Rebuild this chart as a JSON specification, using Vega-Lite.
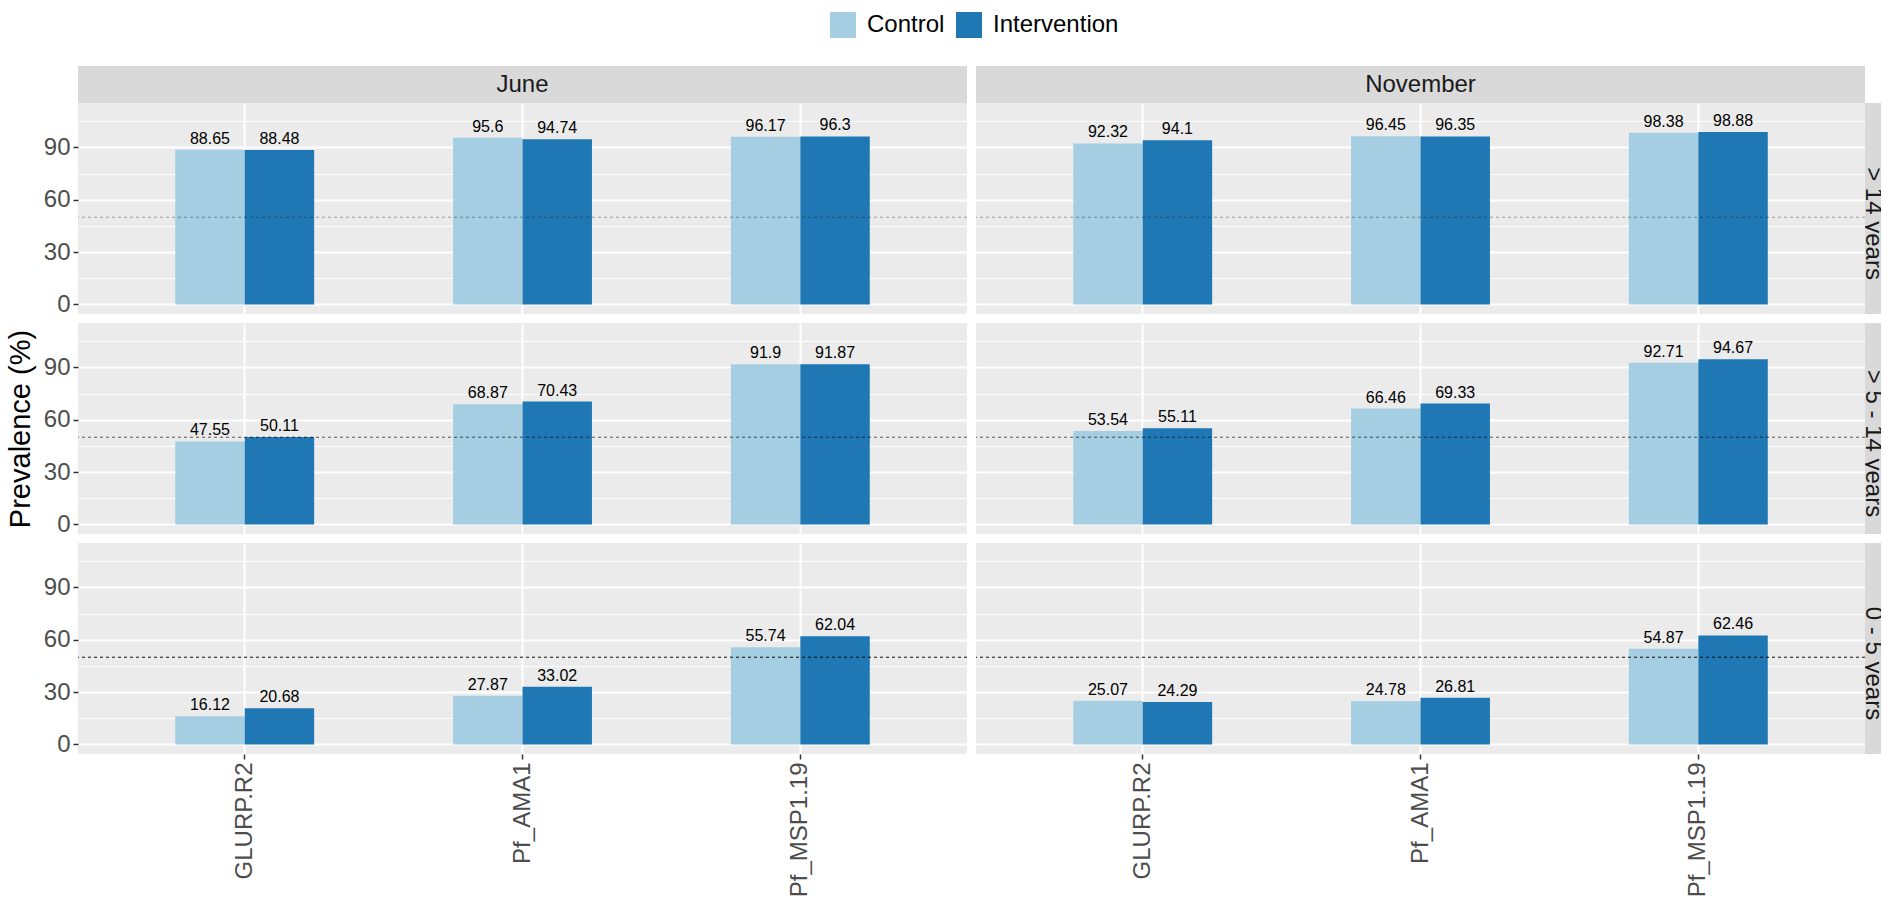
{
"$schema": "https://vega.github.io/schema/vega-lite/v6.json",
"padding": {"left": 6, "top": 12, "right": 0, "bottom": 0},
"background": "#FFFFFF",
"config": {
  "view": {"stroke": null},
  "font": "Liberation Sans",
  "axis": {"domain": false, "gridColor": "#FFFFFF", "gridWidth": 2, "labelFontSize": 24, "labelColor": "#4D4D4D", "tickColor": "#333333", "tickWidth": 1.5, "tickSize": 5, "labelPadding": 3, "titleFontSize": 29, "titleFontWeight": "normal", "titleColor": "#000000"}
},
"datasets": {
  "d": [
    {"month": "June", "age": "> 14 years", "antigen": "GLURP.R2", "group": "Control", "prev": 88.65},
    {"month": "June", "age": "> 14 years", "antigen": "GLURP.R2", "group": "Intervention", "prev": 88.48},
    {"month": "June", "age": "> 14 years", "antigen": "Pf_AMA1", "group": "Control", "prev": 95.6},
    {"month": "June", "age": "> 14 years", "antigen": "Pf_AMA1", "group": "Intervention", "prev": 94.74},
    {"month": "June", "age": "> 14 years", "antigen": "Pf_MSP1.19", "group": "Control", "prev": 96.17},
    {"month": "June", "age": "> 14 years", "antigen": "Pf_MSP1.19", "group": "Intervention", "prev": 96.3},
    {"month": "November", "age": "> 14 years", "antigen": "GLURP.R2", "group": "Control", "prev": 92.32},
    {"month": "November", "age": "> 14 years", "antigen": "GLURP.R2", "group": "Intervention", "prev": 94.1},
    {"month": "November", "age": "> 14 years", "antigen": "Pf_AMA1", "group": "Control", "prev": 96.45},
    {"month": "November", "age": "> 14 years", "antigen": "Pf_AMA1", "group": "Intervention", "prev": 96.35},
    {"month": "November", "age": "> 14 years", "antigen": "Pf_MSP1.19", "group": "Control", "prev": 98.38},
    {"month": "November", "age": "> 14 years", "antigen": "Pf_MSP1.19", "group": "Intervention", "prev": 98.88},
    {"month": "June", "age": "> 5 - 14 years", "antigen": "GLURP.R2", "group": "Control", "prev": 47.55},
    {"month": "June", "age": "> 5 - 14 years", "antigen": "GLURP.R2", "group": "Intervention", "prev": 50.11},
    {"month": "June", "age": "> 5 - 14 years", "antigen": "Pf_AMA1", "group": "Control", "prev": 68.87},
    {"month": "June", "age": "> 5 - 14 years", "antigen": "Pf_AMA1", "group": "Intervention", "prev": 70.43},
    {"month": "June", "age": "> 5 - 14 years", "antigen": "Pf_MSP1.19", "group": "Control", "prev": 91.9},
    {"month": "June", "age": "> 5 - 14 years", "antigen": "Pf_MSP1.19", "group": "Intervention", "prev": 91.87},
    {"month": "November", "age": "> 5 - 14 years", "antigen": "GLURP.R2", "group": "Control", "prev": 53.54},
    {"month": "November", "age": "> 5 - 14 years", "antigen": "GLURP.R2", "group": "Intervention", "prev": 55.11},
    {"month": "November", "age": "> 5 - 14 years", "antigen": "Pf_AMA1", "group": "Control", "prev": 66.46},
    {"month": "November", "age": "> 5 - 14 years", "antigen": "Pf_AMA1", "group": "Intervention", "prev": 69.33},
    {"month": "November", "age": "> 5 - 14 years", "antigen": "Pf_MSP1.19", "group": "Control", "prev": 92.71},
    {"month": "November", "age": "> 5 - 14 years", "antigen": "Pf_MSP1.19", "group": "Intervention", "prev": 94.67},
    {"month": "June", "age": "0 - 5 years", "antigen": "GLURP.R2", "group": "Control", "prev": 16.12},
    {"month": "June", "age": "0 - 5 years", "antigen": "GLURP.R2", "group": "Intervention", "prev": 20.68},
    {"month": "June", "age": "0 - 5 years", "antigen": "Pf_AMA1", "group": "Control", "prev": 27.87},
    {"month": "June", "age": "0 - 5 years", "antigen": "Pf_AMA1", "group": "Intervention", "prev": 33.02},
    {"month": "June", "age": "0 - 5 years", "antigen": "Pf_MSP1.19", "group": "Control", "prev": 55.74},
    {"month": "June", "age": "0 - 5 years", "antigen": "Pf_MSP1.19", "group": "Intervention", "prev": 62.04},
    {"month": "November", "age": "0 - 5 years", "antigen": "GLURP.R2", "group": "Control", "prev": 25.07},
    {"month": "November", "age": "0 - 5 years", "antigen": "GLURP.R2", "group": "Intervention", "prev": 24.29},
    {"month": "November", "age": "0 - 5 years", "antigen": "Pf_AMA1", "group": "Control", "prev": 24.78},
    {"month": "November", "age": "0 - 5 years", "antigen": "Pf_AMA1", "group": "Intervention", "prev": 26.81},
    {"month": "November", "age": "0 - 5 years", "antigen": "Pf_MSP1.19", "group": "Control", "prev": 54.87},
    {"month": "November", "age": "0 - 5 years", "antigen": "Pf_MSP1.19", "group": "Intervention", "prev": 62.46}
  ]
},
"columns": 4,
"spacing": 0,
"bounds": "flush",
"align": "each",
"resolve": {"scale": {"color": "shared"}},
"concat": [
  {"width": 889, "height": 37, "view": {"fill": "#D9D9D9", "stroke": null}, "data": {"values": [{"label": "June"}]}, "mark": {"type": "text", "fontSize": 24, "color": "#1A1A1A", "align": "center", "baseline": "middle"}, "encoding": {"text": {"field": "label"}}},
  {"width": 9, "height": 37, "data": {"values": []}, "mark": "point"},
  {"width": 889, "height": 37, "view": {"fill": "#D9D9D9", "stroke": null}, "data": {"values": [{"label": "November"}]}, "mark": {"type": "text", "fontSize": 24, "color": "#1A1A1A", "align": "center", "baseline": "middle"}, "encoding": {"text": {"field": "label"}}},
  {"width": 16, "height": 37, "data": {"values": []}, "mark": "point"},

  {"width": 889, "height": 211, "view": {"fill": "#EBEBEB", "stroke": null},
   "layer": [
    {"data": {"name": "d"}, "transform": [{"filter": "datum.month === 'June' && datum.age === '> 14 years'"}],
     "mark": {"type": "bar"},
     "encoding": {
      "x": {"field": "antigen", "type": "nominal", "sort": ["GLURP.R2", "Pf_AMA1", "Pf_MSP1.19"], "scale": {"paddingInner": 0.5, "paddingOuter": 0.35}, "axis": {"title": null, "labels": false, "ticks": false, "grid": true, "bandPosition": 0.5}},
      "xOffset": {"field": "group", "type": "nominal", "sort": ["Control", "Intervention"]},
      "y": {"field": "prev", "type": "quantitative", "scale": {"domain": [-5.5, 115.5], "nice": false, "zero": false}, "axis": {"title": null, "values": [0, 30, 60, 90], "grid": true}},
      "color": {"field": "group", "type": "nominal", "scale": {"domain": ["Control", "Intervention"], "range": ["#A6CEE3", "#1F78B4"]}, "legend": {"title": null, "orient": "none", "legendX": 752, "legendY": -54, "direction": "horizontal", "symbolType": "square", "symbolSize": 676, "symbolStrokeWidth": 0, "labelFontSize": 24, "labelColor": "#000000", "labelOffset": 11, "columnPadding": 11, "padding": 0}}
     }},
    {"data": {"name": "d"}, "transform": [{"filter": "datum.month === 'June' && datum.age === '> 14 years'"}],
     "mark": {"type": "text", "baseline": "alphabetic", "dy": -6, "fontSize": 16, "color": "#000000"},
     "encoding": {
      "x": {"field": "antigen", "type": "nominal", "sort": ["GLURP.R2", "Pf_AMA1", "Pf_MSP1.19"], "scale": {"paddingInner": 0.5, "paddingOuter": 0.35}, "axis": {"title": null, "labels": false, "ticks": false, "grid": true, "bandPosition": 0.5}},
      "xOffset": {"field": "group", "type": "nominal", "sort": ["Control", "Intervention"]},
      "y": {"field": "prev", "type": "quantitative", "scale": {"domain": [-5.5, 115.5], "nice": false, "zero": false}, "axis": null},
      "text": {"field": "prev", "type": "quantitative"}
     }},
    {"data": {"values": [{"ref": 50}]},
     "mark": {"type": "rule", "strokeDash": [3, 3], "strokeWidth": 1, "color": "#000000", "opacity": 0.35},
     "encoding": {"y": {"field": "ref", "type": "quantitative", "scale": {"domain": [-5.5, 115.5], "nice": false, "zero": false}, "axis": {"orient": "right", "title": null, "values": [15, 45, 75, 105], "labels": false, "ticks": false, "grid": true, "gridWidth": 1}}}}
   ],
   "resolve": {"axis": {"y": "independent"}}},
  {"width": 9, "height": 211, "data": {"values": []}, "mark": "point"},
  {"width": 889, "height": 211, "view": {"fill": "#EBEBEB", "stroke": null},
   "layer": [
    {"data": {"name": "d"}, "transform": [{"filter": "datum.month === 'November' && datum.age === '> 14 years'"}],
     "mark": {"type": "bar"},
     "encoding": {
      "x": {"field": "antigen", "type": "nominal", "sort": ["GLURP.R2", "Pf_AMA1", "Pf_MSP1.19"], "scale": {"paddingInner": 0.5, "paddingOuter": 0.35}, "axis": {"title": null, "labels": false, "ticks": false, "grid": true, "bandPosition": 0.5}},
      "xOffset": {"field": "group", "type": "nominal", "sort": ["Control", "Intervention"]},
      "y": {"field": "prev", "type": "quantitative", "scale": {"domain": [-5.5, 115.5], "nice": false, "zero": false}, "axis": {"title": null, "values": [0, 30, 60, 90], "labels": false, "ticks": false, "grid": true}},
      "color": {"field": "group", "type": "nominal", "scale": {"domain": ["Control", "Intervention"], "range": ["#A6CEE3", "#1F78B4"]}, "legend": {"title": null, "orient": "none", "legendX": 752, "legendY": -54, "direction": "horizontal", "symbolType": "square", "symbolSize": 676, "symbolStrokeWidth": 0, "labelFontSize": 24, "labelColor": "#000000", "labelOffset": 11, "columnPadding": 11, "padding": 0}}
     }},
    {"data": {"name": "d"}, "transform": [{"filter": "datum.month === 'November' && datum.age === '> 14 years'"}],
     "mark": {"type": "text", "baseline": "alphabetic", "dy": -6, "fontSize": 16, "color": "#000000"},
     "encoding": {
      "x": {"field": "antigen", "type": "nominal", "sort": ["GLURP.R2", "Pf_AMA1", "Pf_MSP1.19"], "scale": {"paddingInner": 0.5, "paddingOuter": 0.35}, "axis": {"title": null, "labels": false, "ticks": false, "grid": true, "bandPosition": 0.5}},
      "xOffset": {"field": "group", "type": "nominal", "sort": ["Control", "Intervention"]},
      "y": {"field": "prev", "type": "quantitative", "scale": {"domain": [-5.5, 115.5], "nice": false, "zero": false}, "axis": null},
      "text": {"field": "prev", "type": "quantitative"}
     }},
    {"data": {"values": [{"ref": 50}]},
     "mark": {"type": "rule", "strokeDash": [3, 3], "strokeWidth": 1, "color": "#000000", "opacity": 0.35},
     "encoding": {"y": {"field": "ref", "type": "quantitative", "scale": {"domain": [-5.5, 115.5], "nice": false, "zero": false}, "axis": {"orient": "right", "title": null, "values": [15, 45, 75, 105], "labels": false, "ticks": false, "grid": true, "gridWidth": 1}}}}
   ],
   "resolve": {"axis": {"y": "independent"}}},
  {"width": 16, "height": 211, "view": {"fill": "#D9D9D9", "stroke": null}, "data": {"values": [{"label": "> 14 years"}]}, "mark": {"type": "text", "angle": 90, "fontSize": 24, "color": "#1A1A1A", "align": "center", "baseline": "middle", "dx": 15, "clip": true}, "encoding": {"text": {"field": "label"}}},

  {"width": 889, "height": 9, "data": {"values": []}, "mark": "point"},
  {"width": 9, "height": 9, "data": {"values": []}, "mark": "point"},
  {"width": 889, "height": 9, "data": {"values": []}, "mark": "point"},
  {"width": 16, "height": 9, "data": {"values": []}, "mark": "point"},

  {"width": 889, "height": 211, "view": {"fill": "#EBEBEB", "stroke": null},
   "layer": [
    {"data": {"name": "d"}, "transform": [{"filter": "datum.month === 'June' && datum.age === '> 5 - 14 years'"}],
     "mark": {"type": "bar"},
     "encoding": {
      "x": {"field": "antigen", "type": "nominal", "sort": ["GLURP.R2", "Pf_AMA1", "Pf_MSP1.19"], "scale": {"paddingInner": 0.5, "paddingOuter": 0.35}, "axis": {"title": null, "labels": false, "ticks": false, "grid": true, "bandPosition": 0.5}},
      "xOffset": {"field": "group", "type": "nominal", "sort": ["Control", "Intervention"]},
      "y": {"field": "prev", "type": "quantitative", "scale": {"domain": [-5.5, 115.5], "nice": false, "zero": false}, "axis": {"title": "Prevalence (%)", "titlePadding": 8, "values": [0, 30, 60, 90], "grid": true}},
      "color": {"field": "group", "type": "nominal", "scale": {"domain": ["Control", "Intervention"], "range": ["#A6CEE3", "#1F78B4"]}, "legend": {"title": null, "orient": "none", "legendX": 752, "legendY": -54, "direction": "horizontal", "symbolType": "square", "symbolSize": 676, "symbolStrokeWidth": 0, "labelFontSize": 24, "labelColor": "#000000", "labelOffset": 11, "columnPadding": 11, "padding": 0}}
     }},
    {"data": {"name": "d"}, "transform": [{"filter": "datum.month === 'June' && datum.age === '> 5 - 14 years'"}],
     "mark": {"type": "text", "baseline": "alphabetic", "dy": -6, "fontSize": 16, "color": "#000000"},
     "encoding": {
      "x": {"field": "antigen", "type": "nominal", "sort": ["GLURP.R2", "Pf_AMA1", "Pf_MSP1.19"], "scale": {"paddingInner": 0.5, "paddingOuter": 0.35}, "axis": {"title": null, "labels": false, "ticks": false, "grid": true, "bandPosition": 0.5}},
      "xOffset": {"field": "group", "type": "nominal", "sort": ["Control", "Intervention"]},
      "y": {"field": "prev", "type": "quantitative", "scale": {"domain": [-5.5, 115.5], "nice": false, "zero": false}, "axis": null},
      "text": {"field": "prev", "type": "quantitative"}
     }},
    {"data": {"values": [{"ref": 50}]},
     "mark": {"type": "rule", "strokeDash": [3, 3], "strokeWidth": 1, "color": "#000000", "opacity": 0.65},
     "encoding": {"y": {"field": "ref", "type": "quantitative", "scale": {"domain": [-5.5, 115.5], "nice": false, "zero": false}, "axis": {"orient": "right", "title": null, "values": [15, 45, 75, 105], "labels": false, "ticks": false, "grid": true, "gridWidth": 1}}}}
   ],
   "resolve": {"axis": {"y": "independent"}}},
  {"width": 9, "height": 211, "data": {"values": []}, "mark": "point"},
  {"width": 889, "height": 211, "view": {"fill": "#EBEBEB", "stroke": null},
   "layer": [
    {"data": {"name": "d"}, "transform": [{"filter": "datum.month === 'November' && datum.age === '> 5 - 14 years'"}],
     "mark": {"type": "bar"},
     "encoding": {
      "x": {"field": "antigen", "type": "nominal", "sort": ["GLURP.R2", "Pf_AMA1", "Pf_MSP1.19"], "scale": {"paddingInner": 0.5, "paddingOuter": 0.35}, "axis": {"title": null, "labels": false, "ticks": false, "grid": true, "bandPosition": 0.5}},
      "xOffset": {"field": "group", "type": "nominal", "sort": ["Control", "Intervention"]},
      "y": {"field": "prev", "type": "quantitative", "scale": {"domain": [-5.5, 115.5], "nice": false, "zero": false}, "axis": {"title": null, "values": [0, 30, 60, 90], "labels": false, "ticks": false, "grid": true}},
      "color": {"field": "group", "type": "nominal", "scale": {"domain": ["Control", "Intervention"], "range": ["#A6CEE3", "#1F78B4"]}, "legend": {"title": null, "orient": "none", "legendX": 752, "legendY": -54, "direction": "horizontal", "symbolType": "square", "symbolSize": 676, "symbolStrokeWidth": 0, "labelFontSize": 24, "labelColor": "#000000", "labelOffset": 11, "columnPadding": 11, "padding": 0}}
     }},
    {"data": {"name": "d"}, "transform": [{"filter": "datum.month === 'November' && datum.age === '> 5 - 14 years'"}],
     "mark": {"type": "text", "baseline": "alphabetic", "dy": -6, "fontSize": 16, "color": "#000000"},
     "encoding": {
      "x": {"field": "antigen", "type": "nominal", "sort": ["GLURP.R2", "Pf_AMA1", "Pf_MSP1.19"], "scale": {"paddingInner": 0.5, "paddingOuter": 0.35}, "axis": {"title": null, "labels": false, "ticks": false, "grid": true, "bandPosition": 0.5}},
      "xOffset": {"field": "group", "type": "nominal", "sort": ["Control", "Intervention"]},
      "y": {"field": "prev", "type": "quantitative", "scale": {"domain": [-5.5, 115.5], "nice": false, "zero": false}, "axis": null},
      "text": {"field": "prev", "type": "quantitative"}
     }},
    {"data": {"values": [{"ref": 50}]},
     "mark": {"type": "rule", "strokeDash": [3, 3], "strokeWidth": 1, "color": "#000000", "opacity": 0.65},
     "encoding": {"y": {"field": "ref", "type": "quantitative", "scale": {"domain": [-5.5, 115.5], "nice": false, "zero": false}, "axis": {"orient": "right", "title": null, "values": [15, 45, 75, 105], "labels": false, "ticks": false, "grid": true, "gridWidth": 1}}}}
   ],
   "resolve": {"axis": {"y": "independent"}}},
  {"width": 16, "height": 211, "view": {"fill": "#D9D9D9", "stroke": null}, "data": {"values": [{"label": "> 5 - 14 years"}]}, "mark": {"type": "text", "angle": 90, "fontSize": 24, "color": "#1A1A1A", "align": "center", "baseline": "middle", "dx": 15, "clip": true}, "encoding": {"text": {"field": "label"}}},

  {"width": 889, "height": 9, "data": {"values": []}, "mark": "point"},
  {"width": 9, "height": 9, "data": {"values": []}, "mark": "point"},
  {"width": 889, "height": 9, "data": {"values": []}, "mark": "point"},
  {"width": 16, "height": 9, "data": {"values": []}, "mark": "point"},

  {"width": 889, "height": 211, "view": {"fill": "#EBEBEB", "stroke": null},
   "layer": [
    {"data": {"name": "d"}, "transform": [{"filter": "datum.month === 'June' && datum.age === '0 - 5 years'"}],
     "mark": {"type": "bar"},
     "encoding": {
      "x": {"field": "antigen", "type": "nominal", "sort": ["GLURP.R2", "Pf_AMA1", "Pf_MSP1.19"], "scale": {"paddingInner": 0.5, "paddingOuter": 0.35}, "axis": {"title": null, "labelAngle": -90, "grid": true, "bandPosition": 0.5}},
      "xOffset": {"field": "group", "type": "nominal", "sort": ["Control", "Intervention"]},
      "y": {"field": "prev", "type": "quantitative", "scale": {"domain": [-5.5, 115.5], "nice": false, "zero": false}, "axis": {"title": null, "values": [0, 30, 60, 90], "grid": true}},
      "color": {"field": "group", "type": "nominal", "scale": {"domain": ["Control", "Intervention"], "range": ["#A6CEE3", "#1F78B4"]}, "legend": {"title": null, "orient": "none", "legendX": 752, "legendY": -54, "direction": "horizontal", "symbolType": "square", "symbolSize": 676, "symbolStrokeWidth": 0, "labelFontSize": 24, "labelColor": "#000000", "labelOffset": 11, "columnPadding": 11, "padding": 0}}
     }},
    {"data": {"name": "d"}, "transform": [{"filter": "datum.month === 'June' && datum.age === '0 - 5 years'"}],
     "mark": {"type": "text", "baseline": "alphabetic", "dy": -6, "fontSize": 16, "color": "#000000"},
     "encoding": {
      "x": {"field": "antigen", "type": "nominal", "sort": ["GLURP.R2", "Pf_AMA1", "Pf_MSP1.19"], "scale": {"paddingInner": 0.5, "paddingOuter": 0.35}, "axis": {"title": null, "labelAngle": -90, "grid": true, "bandPosition": 0.5}},
      "xOffset": {"field": "group", "type": "nominal", "sort": ["Control", "Intervention"]},
      "y": {"field": "prev", "type": "quantitative", "scale": {"domain": [-5.5, 115.5], "nice": false, "zero": false}, "axis": null},
      "text": {"field": "prev", "type": "quantitative"}
     }},
    {"data": {"values": [{"ref": 50}]},
     "mark": {"type": "rule", "strokeDash": [3, 3], "strokeWidth": 1, "color": "#000000", "opacity": 0.95},
     "encoding": {"y": {"field": "ref", "type": "quantitative", "scale": {"domain": [-5.5, 115.5], "nice": false, "zero": false}, "axis": {"orient": "right", "title": null, "values": [15, 45, 75, 105], "labels": false, "ticks": false, "grid": true, "gridWidth": 1}}}}
   ],
   "resolve": {"axis": {"y": "independent"}}},
  {"width": 9, "height": 211, "data": {"values": []}, "mark": "point"},
  {"width": 889, "height": 211, "view": {"fill": "#EBEBEB", "stroke": null},
   "layer": [
    {"data": {"name": "d"}, "transform": [{"filter": "datum.month === 'November' && datum.age === '0 - 5 years'"}],
     "mark": {"type": "bar"},
     "encoding": {
      "x": {"field": "antigen", "type": "nominal", "sort": ["GLURP.R2", "Pf_AMA1", "Pf_MSP1.19"], "scale": {"paddingInner": 0.5, "paddingOuter": 0.35}, "axis": {"title": null, "labelAngle": -90, "grid": true, "bandPosition": 0.5}},
      "xOffset": {"field": "group", "type": "nominal", "sort": ["Control", "Intervention"]},
      "y": {"field": "prev", "type": "quantitative", "scale": {"domain": [-5.5, 115.5], "nice": false, "zero": false}, "axis": {"title": null, "values": [0, 30, 60, 90], "labels": false, "ticks": false, "grid": true}},
      "color": {"field": "group", "type": "nominal", "scale": {"domain": ["Control", "Intervention"], "range": ["#A6CEE3", "#1F78B4"]}, "legend": {"title": null, "orient": "none", "legendX": 752, "legendY": -54, "direction": "horizontal", "symbolType": "square", "symbolSize": 676, "symbolStrokeWidth": 0, "labelFontSize": 24, "labelColor": "#000000", "labelOffset": 11, "columnPadding": 11, "padding": 0}}
     }},
    {"data": {"name": "d"}, "transform": [{"filter": "datum.month === 'November' && datum.age === '0 - 5 years'"}],
     "mark": {"type": "text", "baseline": "alphabetic", "dy": -6, "fontSize": 16, "color": "#000000"},
     "encoding": {
      "x": {"field": "antigen", "type": "nominal", "sort": ["GLURP.R2", "Pf_AMA1", "Pf_MSP1.19"], "scale": {"paddingInner": 0.5, "paddingOuter": 0.35}, "axis": {"title": null, "labelAngle": -90, "grid": true, "bandPosition": 0.5}},
      "xOffset": {"field": "group", "type": "nominal", "sort": ["Control", "Intervention"]},
      "y": {"field": "prev", "type": "quantitative", "scale": {"domain": [-5.5, 115.5], "nice": false, "zero": false}, "axis": null},
      "text": {"field": "prev", "type": "quantitative"}
     }},
    {"data": {"values": [{"ref": 50}]},
     "mark": {"type": "rule", "strokeDash": [3, 3], "strokeWidth": 1, "color": "#000000", "opacity": 0.95},
     "encoding": {"y": {"field": "ref", "type": "quantitative", "scale": {"domain": [-5.5, 115.5], "nice": false, "zero": false}, "axis": {"orient": "right", "title": null, "values": [15, 45, 75, 105], "labels": false, "ticks": false, "grid": true, "gridWidth": 1}}}}
   ],
   "resolve": {"axis": {"y": "independent"}}},
  {"width": 16, "height": 211, "view": {"fill": "#D9D9D9", "stroke": null}, "data": {"values": [{"label": "0 - 5 years"}]}, "mark": {"type": "text", "angle": 90, "fontSize": 24, "color": "#1A1A1A", "align": "center", "baseline": "middle", "dx": 15, "clip": true}, "encoding": {"text": {"field": "label"}}}
]
}
